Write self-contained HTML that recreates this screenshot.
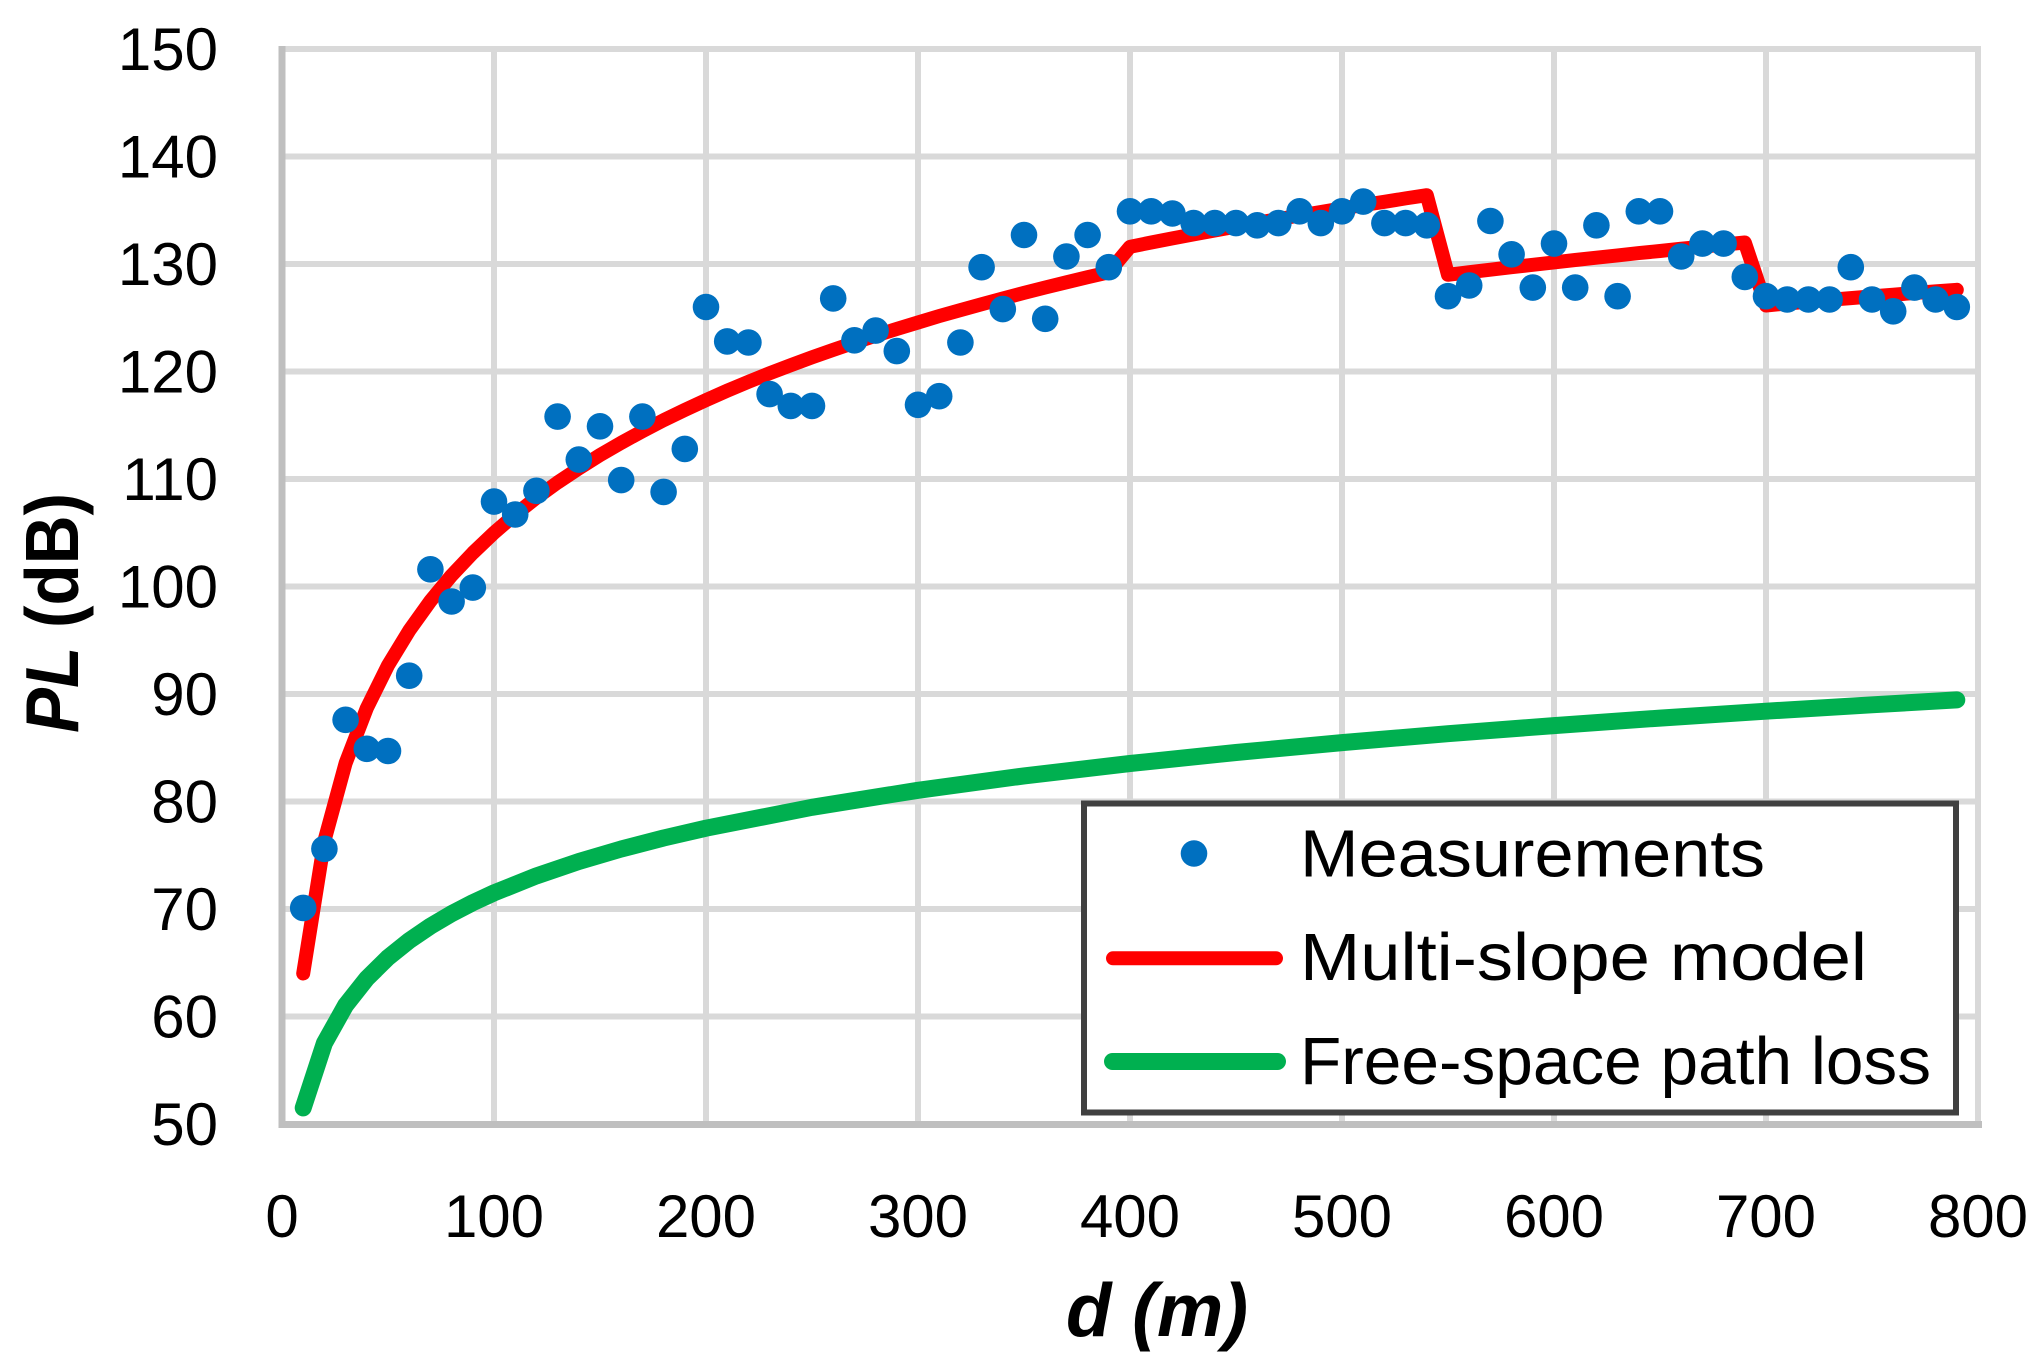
<!DOCTYPE html>
<html>
<head>
<meta charset="utf-8">
<style>
  html, body { margin: 0; padding: 0; background: #ffffff; }
  svg { display: block; }
  text { font-family: "Liberation Sans", Arial, sans-serif; fill: #000000; }
</style>
</head>
<body>
<svg width="2043" height="1372" viewBox="0 0 2043 1372" xmlns="http://www.w3.org/2000/svg">
  <rect x="0" y="0" width="2043" height="1372" fill="#ffffff"/>

  <g stroke="#d9d9d9" stroke-width="6" fill="none">
    <line x1="282" y1="49" x2="1978" y2="49"/>
    <line x1="282" y1="156.5" x2="1978" y2="156.5"/>
    <line x1="282" y1="264" x2="1978" y2="264"/>
    <line x1="282" y1="371.5" x2="1978" y2="371.5"/>
    <line x1="282" y1="479" x2="1978" y2="479"/>
    <line x1="282" y1="586.5" x2="1978" y2="586.5"/>
    <line x1="282" y1="694" x2="1978" y2="694"/>
    <line x1="282" y1="801.5" x2="1978" y2="801.5"/>
    <line x1="282" y1="909" x2="1978" y2="909"/>
    <line x1="282" y1="1016.5" x2="1978" y2="1016.5"/>
    <line x1="494" y1="46" x2="494" y2="1124"/>
    <line x1="706" y1="46" x2="706" y2="1124"/>
    <line x1="918" y1="46" x2="918" y2="1124"/>
    <line x1="1130" y1="46" x2="1130" y2="1124"/>
    <line x1="1342" y1="46" x2="1342" y2="1124"/>
    <line x1="1554" y1="46" x2="1554" y2="1124"/>
    <line x1="1766" y1="46" x2="1766" y2="1124"/>
    <line x1="1978" y1="46" x2="1978" y2="1124"/>
  </g>

  <g stroke="#bfbfbf" stroke-width="7" fill="none">
    <line x1="282" y1="46" x2="282" y2="1127.5"/>
    <line x1="278.5" y1="1124.5" x2="1982" y2="1124.5"/>
  </g>

  <g font-size="60" text-anchor="end">
    <text x="218" y="70">150</text>
    <text x="218" y="177.5">140</text>
    <text x="218" y="285">130</text>
    <text x="218" y="392.5">120</text>
    <text x="218" y="500">110</text>
    <text x="218" y="607.5">100</text>
    <text x="218" y="715">90</text>
    <text x="218" y="822.5">80</text>
    <text x="218" y="930">70</text>
    <text x="218" y="1037.5">60</text>
    <text x="218" y="1145">50</text>
  </g>

  <g font-size="60" text-anchor="middle">
    <text x="282" y="1237">0</text>
    <text x="494" y="1237">100</text>
    <text x="706" y="1237">200</text>
    <text x="918" y="1237">300</text>
    <text x="1130" y="1237">400</text>
    <text x="1342" y="1237">500</text>
    <text x="1554" y="1237">600</text>
    <text x="1766" y="1237">700</text>
    <text x="1978" y="1237">800</text>
  </g>

  <text x="1066" y="1336" font-size="75" font-weight="bold" font-style="italic" textLength="182" lengthAdjust="spacingAndGlyphs">d (m)</text>
  <text transform="translate(78,613) rotate(-90)" text-anchor="middle" font-size="75" font-weight="bold" textLength="240" lengthAdjust="spacingAndGlyphs"><tspan font-style="italic">PL</tspan> (dB)</text>

  <polyline fill="none" stroke="#00b050" stroke-width="17" stroke-linecap="round" stroke-linejoin="round"
    points="303.2,1107.9 324.4,1043.2 345.6,1005.3 366.8,978.5 388,957.6 409.2,940.6 430.4,926.2 451.6,913.7 472.8,902.7 494,892.9 536.4,875.9 578.8,861.5 621.2,849.0 663.6,838.0 706,828.2 812,807.3 918,790.3 1024,775.9 1130,763.5 1236,752.5 1342,742.6 1448,733.7 1554,725.6 1660,718.1 1766,711.2 1872,704.8 1956.8,699.9"/>

  <polyline fill="none" stroke="#ff0000" stroke-width="14" stroke-linecap="round" stroke-linejoin="round"
    points="303.2,973.5 324.4,840.8 345.6,763.2 366.8,708.2 388,665.4 409.2,630.6 430.4,601.0 451.6,575.4 472.8,553.0 494,532.8 515.2,514.5 536.4,497.8 557.6,482.5 578.8,468.4 600,455.1 621.2,442.8 642.4,431.2 663.6,420.2 684.8,409.9 706,400.1 727.2,390.7 748.4,381.8 769.6,373.3 790.8,365.2 812,357.3 833.2,349.9 854.4,342.6 875.6,335.7 896.8,328.9 918,322.5 939.2,316.1 960.4,310.1 981.6,304.2 1002.8,298.5 1024,292.9 1045.2,287.5 1066.4,282.3 1087.6,277.2 1108.8,272.3 1130,246.8 1151.2,242.5 1172.4,238.4 1193.6,234.4 1214.8,230.5 1236,226.6 1257.2,222.8 1278.4,219.1 1299.6,215.5 1320.8,212.0 1342,208.4 1363.2,205.1 1384.4,201.8 1405.6,198.4 1426.8,195.2 1448,274.8 1469.2,272.2 1490.4,269.7 1511.6,267.2 1532.8,264.8 1554,262.4 1575.2,260.0 1596.4,257.7 1617.6,255.4 1638.8,253.1 1660,251.0 1681.2,248.7 1702.4,246.7 1723.6,244.6 1744.8,242.5 1766,305.5 1787.2,303.5 1808.4,301.6 1829.6,299.8 1850.8,298.1 1872,296.4 1893.2,294.7 1914.4,293.0 1935.6,291.4 1956.8,289.8"/>

  <g fill="#0070c0">
    <circle cx="303.2" cy="907.9" r="13.3"/>
    <circle cx="324.4" cy="848.8" r="13.3"/>
    <circle cx="345.6" cy="719.8" r="13.3"/>
    <circle cx="366.8" cy="748.8" r="13.3"/>
    <circle cx="388" cy="751.0" r="13.3"/>
    <circle cx="409.2" cy="675.7" r="13.3"/>
    <circle cx="430.4" cy="569.3" r="13.3"/>
    <circle cx="451.6" cy="601.5" r="13.3"/>
    <circle cx="472.8" cy="587.6" r="13.3"/>
    <circle cx="494" cy="501.6" r="13.3"/>
    <circle cx="515.2" cy="514.5" r="13.3"/>
    <circle cx="536.4" cy="490.8" r="13.3"/>
    <circle cx="557.6" cy="416.6" r="13.3"/>
    <circle cx="578.8" cy="459.6" r="13.3"/>
    <circle cx="600" cy="426.3" r="13.3"/>
    <circle cx="621.2" cy="480.1" r="13.3"/>
    <circle cx="642.4" cy="416.6" r="13.3"/>
    <circle cx="663.6" cy="491.9" r="13.3"/>
    <circle cx="684.8" cy="448.9" r="13.3"/>
    <circle cx="706" cy="307.0" r="13.3"/>
    <circle cx="727.2" cy="341.4" r="13.3"/>
    <circle cx="748.4" cy="342.5" r="13.3"/>
    <circle cx="769.6" cy="394.1" r="13.3"/>
    <circle cx="790.8" cy="405.9" r="13.3"/>
    <circle cx="812" cy="405.9" r="13.3"/>
    <circle cx="833.2" cy="298.4" r="13.3"/>
    <circle cx="854.4" cy="340.3" r="13.3"/>
    <circle cx="875.6" cy="330.6" r="13.3"/>
    <circle cx="896.8" cy="351.1" r="13.3"/>
    <circle cx="918" cy="404.8" r="13.3"/>
    <circle cx="939.2" cy="396.2" r="13.3"/>
    <circle cx="960.4" cy="342.5" r="13.3"/>
    <circle cx="981.6" cy="267.2" r="13.3"/>
    <circle cx="1002.8" cy="309.1" r="13.3"/>
    <circle cx="1024" cy="235.0" r="13.3"/>
    <circle cx="1045.2" cy="318.8" r="13.3"/>
    <circle cx="1066.4" cy="256.5" r="13.3"/>
    <circle cx="1087.6" cy="235.0" r="13.3"/>
    <circle cx="1108.8" cy="267.2" r="13.3"/>
    <circle cx="1130" cy="211.3" r="13.3"/>
    <circle cx="1151.2" cy="211.3" r="13.3"/>
    <circle cx="1172.4" cy="213.5" r="13.3"/>
    <circle cx="1193.6" cy="223.1" r="13.3"/>
    <circle cx="1214.8" cy="223.1" r="13.3"/>
    <circle cx="1236" cy="223.1" r="13.3"/>
    <circle cx="1257.2" cy="225.3" r="13.3"/>
    <circle cx="1278.4" cy="223.1" r="13.3"/>
    <circle cx="1299.6" cy="211.3" r="13.3"/>
    <circle cx="1320.8" cy="223.1" r="13.3"/>
    <circle cx="1342" cy="211.3" r="13.3"/>
    <circle cx="1363.2" cy="201.6" r="13.3"/>
    <circle cx="1384.4" cy="223.1" r="13.3"/>
    <circle cx="1405.6" cy="223.1" r="13.3"/>
    <circle cx="1426.8" cy="225.3" r="13.3"/>
    <circle cx="1448" cy="296.2" r="13.3"/>
    <circle cx="1469.2" cy="285.5" r="13.3"/>
    <circle cx="1490.4" cy="221.0" r="13.3"/>
    <circle cx="1511.6" cy="254.3" r="13.3"/>
    <circle cx="1532.8" cy="287.6" r="13.3"/>
    <circle cx="1554" cy="243.6" r="13.3"/>
    <circle cx="1575.2" cy="287.6" r="13.3"/>
    <circle cx="1596.4" cy="225.3" r="13.3"/>
    <circle cx="1617.6" cy="296.2" r="13.3"/>
    <circle cx="1638.8" cy="211.3" r="13.3"/>
    <circle cx="1660" cy="211.3" r="13.3"/>
    <circle cx="1681.2" cy="256.5" r="13.3"/>
    <circle cx="1702.4" cy="243.6" r="13.3"/>
    <circle cx="1723.6" cy="243.6" r="13.3"/>
    <circle cx="1744.8" cy="276.9" r="13.3"/>
    <circle cx="1766" cy="296.2" r="13.3"/>
    <circle cx="1787.2" cy="299.5" r="13.3"/>
    <circle cx="1808.4" cy="299.5" r="13.3"/>
    <circle cx="1829.6" cy="299.5" r="13.3"/>
    <circle cx="1850.8" cy="267.2" r="13.3"/>
    <circle cx="1872" cy="299.5" r="13.3"/>
    <circle cx="1893.2" cy="311.3" r="13.3"/>
    <circle cx="1914.4" cy="287.6" r="13.3"/>
    <circle cx="1935.6" cy="299.5" r="13.3"/>
    <circle cx="1956.8" cy="307.0" r="13.3"/>
  </g>

  <rect x="1084" y="803.5" width="872" height="309" fill="#ffffff" stroke="#404040" stroke-width="6"/>
  <circle cx="1194" cy="853.5" r="13.3" fill="#0070c0"/>
  <line x1="1113" y1="958.3" x2="1276" y2="958.3" stroke="#ff0000" stroke-width="14" stroke-linecap="round"/>
  <line x1="1112.5" y1="1061.5" x2="1277.5" y2="1061.5" stroke="#00b050" stroke-width="17" stroke-linecap="round"/>
  <g font-size="67">
    <text x="1300" y="876.5" textLength="465" lengthAdjust="spacingAndGlyphs">Measurements</text>
    <text x="1300" y="980" textLength="567" lengthAdjust="spacingAndGlyphs">Multi-slope model</text>
    <text x="1300" y="1084" textLength="631" lengthAdjust="spacingAndGlyphs">Free-space path loss</text>
  </g>
</svg>
</body>
</html>
